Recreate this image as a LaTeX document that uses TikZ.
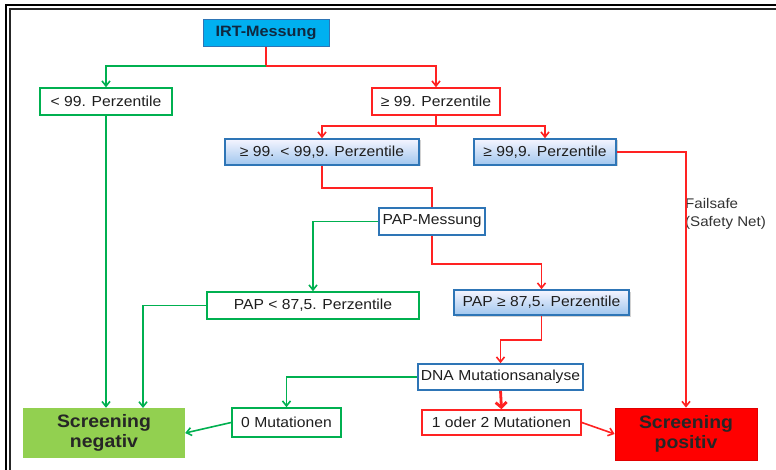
\documentclass[tikz,border=0pt]{standalone}
\usepackage{fontspec}
\setmainfont{Liberation Sans}[FakeStretch=1.08]
\usetikzlibrary{arrows.meta,shadows,calc}
\definecolor{gr}{HTML}{00B050}
\definecolor{rd}{HTML}{FF2222}
\definecolor{bl}{HTML}{2E75B6}
\definecolor{txt}{HTML}{1E1E1E}
\tikzset{
  base/.style={inner sep=0pt, text=txt, font=\fontsize{14.5}{17}\selectfont},
  greenbox/.style={base, draw=gr, line width=1.6pt, fill=white},
  redbox/.style={base, draw=rd, line width=1.6pt, fill=white},
  whitebluebox/.style={base, draw=bl, line width=1.6pt, fill=white},
  gradbox/.style={base, draw=bl, line width=1.6pt, top color=blue!4!white, bottom color={rgb,255:red,160;green,198;blue,238},
     drop shadow={shadow xshift=1.5pt, shadow yshift=-1.5pt, opacity=0.35}},
  gline/.style={draw=gr, line width=1.6pt},
  rline/.style={draw=rd, line width=1.6pt},
  tip/.style={-{Straight Barb[length=5pt,width=8pt]}},
}
\begin{document}
\begin{tikzpicture}[x=1pt,y=-1pt]
\useasboundingbox (0,0) rectangle (776,470);
\fill[white] (0,0) rectangle (776,470);
% frame
\draw[line width=2pt, black] (5.5,470) -- (5.5,5) -- (776,5);
\draw[line width=2pt, black!85] (9.5,470) -- (9.5,9) -- (776,9);

% nodes
\node[base, draw=bl, line width=1pt, fill={rgb,255:red,0;green,176;blue,240}, minimum width=126pt, minimum height=27pt,
      text={rgb,255:red,16;green,40;blue,64}, font=\fontsize{15}{17}\selectfont\bfseries] (irt) at (266,33) {IRT-Messung};
\node[greenbox, minimum width=132pt, minimum height=27pt] (lt99) at (106,101.5) {< 99. Perzentile};
\node[redbox, minimum width=128pt, minimum height=27pt] (ge99) at (436,101.5) {≥ 99. Perzentile};
\node[gradbox, minimum width=194pt, minimum height=26pt] (mid) at (322,152) {≥ 99. < 99,9. Perzentile};
\node[gradbox, minimum width=142pt, minimum height=26pt] (ge999) at (545,152) {≥ 99,9. Perzentile};
\node[whitebluebox, minimum width=106pt, minimum height=27pt] (papm) at (432,221.5) {PAP-Messung};
\node[greenbox, minimum width=212pt, minimum height=27pt] (paplt) at (313,305.5) {PAP < 87,5. Perzentile};
\node[gradbox, minimum width=175pt, minimum height=25pt] (papge) at (541.5,302.5) {PAP ≥ 87,5. Perzentile};
\node[whitebluebox, minimum width=165pt, minimum height=26pt] (dna) at (500.5,377) {DNA Mutationsanalyse};
\node[greenbox, minimum width=109pt, minimum height=29pt] (zero) at (286.5,422.5) {0 Mutationen};
\node[redbox, minimum width=159pt, minimum height=25pt] (onetwo) at (501.5,422.5) {1 oder 2 Mutationen};
\node[base, fill={rgb,255:red,146;green,208;blue,80}, minimum width=162pt, minimum height=50pt, align=center,
      text=black!85, font=\fontsize{18}{20.5}\selectfont\bfseries] (neg) at (104,433) {Screening\\negativ};
\node[base, fill={rgb,255:red,255;green,0;blue,0}, draw={rgb,255:red,225;green,0;blue,0}, line width=0.8pt,
      minimum width=142pt, minimum height=52pt, align=center,
      text=black!85, font=\fontsize{18}{20.5}\selectfont\bfseries] (pos) at (686,434) {Screening\\positiv};
\node[base, anchor=west, align=left, font=\fontsize{14}{18}\selectfont, text=black!80] (fs) at (685,214) {Failsafe\\(Safety Net)};

% connectors
\coordinate (s1) at (266,66);
\draw[rline] (irt.south) -- (s1);
\draw[rline, tip] (s1) -| (ge99.north);
\draw[gline, tip] (s1) -| (lt99.north);

\coordinate (s2) at (436,126);
\draw[rline] (ge99.south) -- (s2);
\draw[rline, tip] (s2) -| (mid.north);
\draw[rline, tip] (s2) -| (ge999.north);

\draw[rline] (mid.south) -- ++(0,22) -| (papm.north);
\draw[gline, tip] (papm.west) -| (paplt.north);
\draw[rline, tip] (papm.south) -- ++(0,28) -| (papge.north);
\draw[rline, tip] (papge.south) -- ++(0,24) -| (dna.north);
\draw[gline, tip] (dna.west) -| (zero.north);
\draw[draw=rd, line width=2.8pt, -{Straight Barb[length=5pt,width=11pt]}] (dna.south) -- (onetwo.north);
\draw[gline, tip] (zero.west) -- (neg.east);
\draw[rline, tip] (onetwo.east) -- (pos.west);
\draw[rline, tip] (ge999.east) -| (pos.north);
\draw[gline, tip] (lt99.south) -- (lt99.south |- neg.north);
\coordinate (n2) at (143,408);
\draw[gline, tip] (paplt.west) -| (n2);
\end{tikzpicture}
\end{document}
